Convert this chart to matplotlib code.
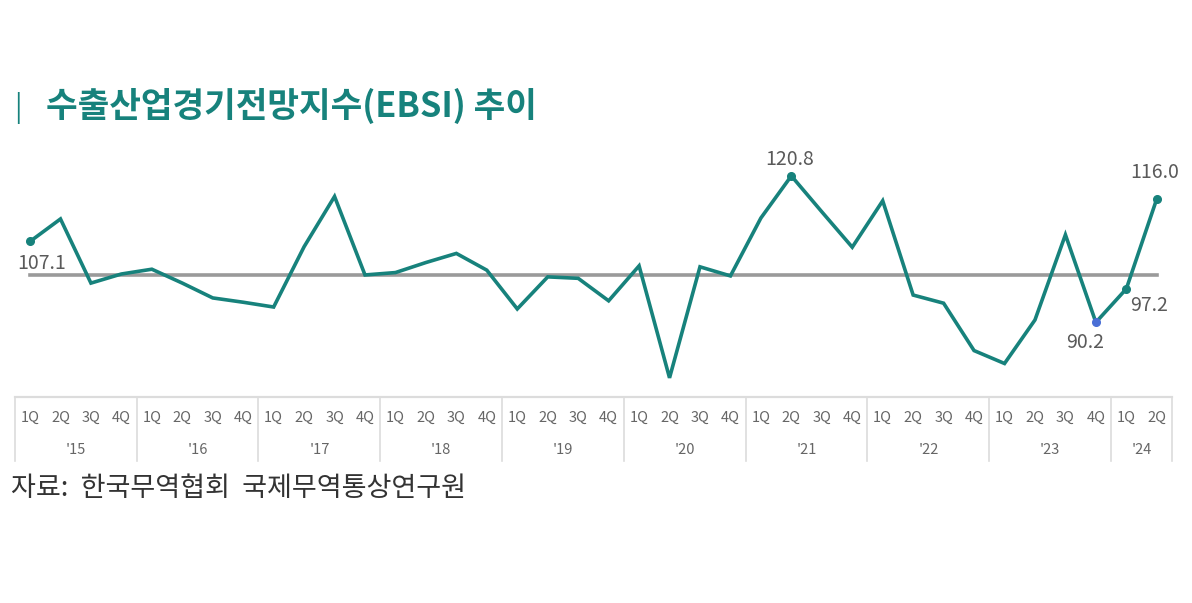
import matplotlib
matplotlib.use("Agg")
import matplotlib.pyplot as plt
import matplotlib.transforms as mtransforms

plt.rcParams['font.family'] = ['Noto Sans CJK KR', 'DejaVu Sans']

# EBSI quarterly values, 1Q'15 .. 2Q'24
ebsi = [107.1, 111.8, 98.4, 100.3, 101.3, 98.4, 95.3, 94.4,
        93.4, 106.0, 116.5, 100.1, 100.6, 102.7, 104.6, 101.1,
        93.0, 99.7, 99.4, 94.7, 102.0, 78.6, 101.8, 99.9,
        112.0, 120.8, 113.3, 105.9, 115.6, 95.9, 94.2, 84.3,
        81.6, 90.7, 108.5, 90.2, 97.2, 116.0]
quarters = ["1Q", "2Q", "3Q", "4Q"]
years = ["'15", "'16", "'17", "'18", "'19", "'20", "'21", "'22", "'23", "'24"]
baseline = 100
labelled = {0: "107.1", 25: "120.8", 35: "90.2", 36: "97.2", 37: "116.0"}

TEAL = "#17827c"
GREY_TXT = "#666666"

fig = plt.figure(figsize=(11.92, 6.03), dpi=100)
ax = fig.add_axes([14.8 / 1192, 1 - 397 / 603, (1172 - 14.8) / 1192, 257 / 603])
ax.set_axis_off()

n = len(ebsi)
xs = list(range(n))
ax.set_xlim(-0.5, n - 0.5)
ax.set_ylim(74.6, 128.3)

ax.plot([0, n - 1], [baseline, baseline], color="#9a9a9a", lw=2.6, zorder=1)
ax.plot(xs, ebsi, color=TEAL, lw=2.6, zorder=2, solid_joinstyle="miter")

for i in labelled:
    c = "#4a6fd6" if i == 35 else TEAL
    ax.plot(xs[i], ebsi[i], "o", ms=5.5, color=c, zorder=3)

offsets = {0: (8.6, -15.8), 25: (-1.4, 11.5), 35: (-7.9, -14.4),
           36: (16.5, -12.2), 37: (-1.4, 18.7)}
for i, txt in labelled.items():
    ax.annotate(txt, (xs[i], ebsi[i]), xytext=offsets[i], textcoords="offset points",
                ha="center", va="center", fontsize=14, color="#5a5a5a")

# category table below the plot
tr = mtransforms.blended_transform_factory(ax.transData, fig.transFigure)
y_top = 1 - 397 / 603
y_bot = 1 - 461 / 603
ax.plot([-0.5, n - 0.5], [y_top, y_top], transform=tr, color="#dcdcdc", lw=1.6, clip_on=False)
bounds = [-0.5] + [3.5 + 4 * k for k in range(len(years) - 1)] + [n - 0.5]
for b in bounds:
    ax.plot([b, b], [y_top, y_bot], transform=tr, color="#dcdcdc", lw=1.2, clip_on=False)
for i in xs:
    ax.text(i, 1 - 418 / 603, quarters[i % 4], transform=tr, ha="center", va="center",
            fontsize=10.5, color=GREY_TXT)
for k, yr in enumerate(years):
    lo, hi = bounds[k], bounds[k + 1]
    ax.text((lo + hi) / 2, 1 - 450 / 603, yr, transform=tr, ha="center", va="center",
            fontsize=10.5, color=GREY_TXT)

fig.text(14 / 1192, 1 - 108 / 603, "|", fontsize=20, color=TEAL,
         va="center", ha="left")
fig.text(46 / 1192, 1 - 106 / 603, "수출산업경기전망지수(EBSI) 추이", fontsize=24.8,
         color=TEAL, fontweight="bold", va="center", ha="left")
fig.text(11 / 1192, 1 - 489 / 603, "자료:  한국무역협회  국제무역통상연구원", fontsize=19.5,
         color="#333333", va="center", ha="left")

fig.savefig("out.png", dpi=100, facecolor="white")
